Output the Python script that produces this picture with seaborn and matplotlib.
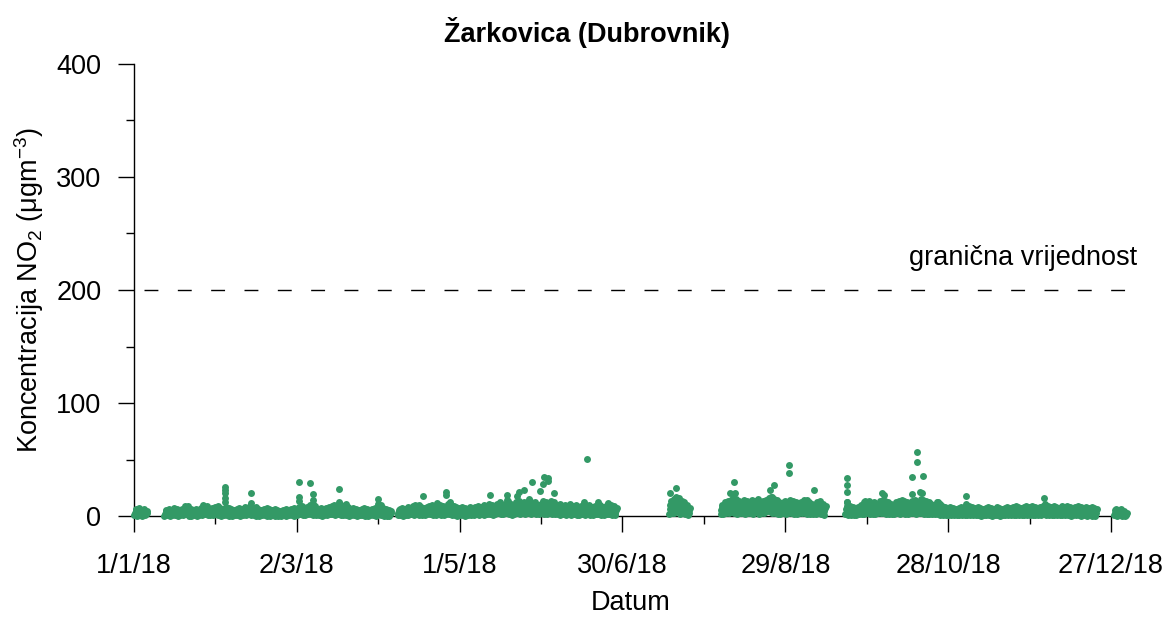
import numpy as np
import pandas as pd
import matplotlib
matplotlib.use("Agg")
import matplotlib.pyplot as plt
import matplotlib.dates as mdates
from matplotlib.ticker import FixedLocator
import seaborn as sns

# Satni NO2 na postaji Žarkovica, 2018 - vrijednosti procijenjene s grafa
# segmenti mjerenja: (prvi dan u godini, dnevne vrijednosti)
pocetni_dani = [0, 11, 97, 197, 216, 262, 361]

visoke = [
    [6, 7, 5, 6, 4],
    [5, 6, 5, 7, 6, 5, 6, 7, 9, 6, 5, 6, 5, 7, 6, 9, 6, 7, 8, 9,
     7, 6, 8, 7, 6, 5, 6, 7, 6, 8, 7, 9, 6, 8, 6, 5, 6, 7, 6, 5,
     6, 5, 4, 5, 6, 5, 6, 7, 6, 8, 9, 7, 8, 10, 11, 9, 6, 7, 6, 7,
     8, 9, 10, 8, 11, 9, 7, 8, 6, 7, 6, 5, 6, 7, 6, 5, 6, 7, 6, 10,
     7, 6, 5, 4],
    [6, 7, 6, 8, 7, 9, 8, 10, 8, 7, 8, 9, 10, 8, 9, 10, 9, 8, 11, 10,
     9, 8, 7, 8, 7, 6, 8, 7, 8, 9, 8, 10, 9, 11, 10, 9, 11, 12, 10, 11,
     13, 11, 10, 12, 13, 11, 12, 10, 13, 11, 12, 10, 11, 13, 12, 11, 13, 12, 10, 11,
     9, 10, 8, 11, 9, 10, 8, 9, 12, 9, 10, 8, 9, 12, 10, 8, 9, 11, 10, 9,
     7],
    [13, 15, 14, 16, 13, 12, 10, 7],
    [10, 12, 13, 14, 16, 15, 13, 12, 14, 13, 12, 14, 13, 15, 12, 13, 14, 16, 17, 15,
     14, 12, 11, 13, 12, 14, 13, 12, 11, 12, 13, 14, 12, 11, 10, 12, 13, 11, 9],
    [12, 9, 8, 7, 8, 10, 12, 11, 13, 10, 12, 11, 13, 14, 13, 12, 11, 10, 12, 13,
     11, 13, 12, 11, 13, 14, 12, 15, 14, 13, 12, 11, 10, 12, 11, 9, 8, 7, 8, 7,
     6, 7, 8, 7, 8, 9, 8, 7, 8, 7, 6, 7, 8, 7, 6, 8, 7, 6, 7, 8,
     7, 8, 9, 8, 7, 8, 9, 8, 9, 8, 7, 8, 9, 11, 9, 8, 9, 8, 7, 9,
     8, 9, 8, 7, 8, 9, 8, 7, 8, 7, 8, 7, 6],
    [6, 5, 6, 4, 3],
]

gornje_srednje = [
    [5, 5, 4, 4, 3],
    [4, 4, 4, 5, 5, 4, 4, 6, 7, 5, 4, 5, 4, 6, 4, 7, 5, 5, 6, 7,
     5, 5, 6, 6, 5, 4, 4, 5, 5, 6, 6, 7, 5, 6, 5, 4, 5, 5, 4, 4,
     5, 4, 3, 4, 4, 4, 5, 5, 5, 6, 7, 5, 6, 8, 8, 7, 5, 5, 5, 6,
     6, 7, 8, 6, 8, 7, 5, 6, 5, 5, 5, 4, 4, 5, 5, 4, 5, 5, 5, 8,
     5, 4, 4, 3],
    [5, 5, 5, 6, 5, 7, 6, 8, 6, 5, 6, 7, 8, 6, 7, 8, 7, 6, 9, 8,
     7, 6, 5, 6, 5, 5, 6, 5, 6, 7, 6, 8, 7, 9, 8, 7, 9, 10, 8, 9,
     10, 8, 7, 9, 11, 8, 10, 8, 11, 9, 10, 8, 9, 11, 9, 8, 10, 9, 8, 9,
     7, 8, 6, 9, 7, 8, 6, 7, 9, 7, 8, 6, 7, 9, 8, 6, 7, 9, 8, 7,
     5],
    [10, 12, 11, 13, 10, 10, 8, 5],
    [8, 9, 11, 11, 13, 12, 10, 10, 11, 10, 10, 11, 10, 12, 9, 11, 11, 13, 14, 12,
     11, 9, 8, 10, 9, 11, 10, 9, 8, 10, 10, 11, 9, 8, 8, 9, 10, 8, 7],
    [9, 7, 6, 5, 6, 8, 9, 8, 10, 8, 9, 8, 10, 11, 10, 9, 8, 8, 9, 10,
     8, 10, 9, 8, 10, 11, 9, 12, 11, 10, 9, 8, 8, 9, 8, 7, 6, 5, 6, 5,
     5, 5, 6, 5, 6, 7, 6, 5, 6, 5, 5, 5, 6, 5, 5, 6, 5, 5, 5, 6,
     5, 6, 7, 6, 5, 6, 7, 6, 7, 6, 5, 6, 7, 8, 7, 6, 7, 6, 5, 7,
     6, 7, 6, 5, 6, 7, 6, 5, 6, 5, 6, 5, 5],
    [5, 4, 4, 3, 2],
]

srednje = [
    [3, 3, 2, 3, 2],
    [2, 3, 2, 4, 3, 2, 3, 4, 5, 3, 2, 3, 2, 4, 3, 5, 3, 4, 4, 5,
     3, 3, 4, 4, 3, 2, 3, 4, 3, 4, 4, 5, 3, 4, 3, 2, 3, 4, 3, 2,
     3, 2, 2, 2, 3, 2, 3, 4, 3, 4, 5, 3, 4, 6, 5, 4, 3, 4, 3, 4,
     4, 5, 6, 4, 5, 4, 3, 4, 3, 3, 3, 2, 3, 4, 3, 2, 3, 4, 3, 5,
     3, 3, 2, 2],
    [3, 4, 3, 4, 3, 5, 4, 5, 4, 3, 4, 5, 6, 4, 5, 6, 4, 4, 6, 5,
     4, 4, 3, 4, 3, 3, 4, 3, 4, 5, 4, 5, 4, 6, 5, 4, 6, 7, 5, 6,
     7, 5, 4, 6, 8, 5, 7, 5, 8, 6, 7, 5, 6, 8, 6, 5, 7, 6, 5, 6,
     4, 5, 4, 6, 4, 5, 4, 4, 6, 4, 5, 4, 4, 6, 5, 4, 4, 6, 5, 4,
     3],
    [6, 9, 7, 10, 6, 7, 5, 3],
    [5, 6, 8, 7, 9, 8, 6, 7, 8, 6, 7, 8, 6, 9, 6, 8, 7, 9, 10, 8,
     8, 6, 5, 7, 6, 8, 7, 6, 5, 7, 7, 8, 6, 5, 5, 6, 7, 5, 4],
    [6, 4, 4, 3, 4, 5, 6, 5, 7, 5, 6, 5, 7, 8, 7, 6, 5, 5, 6, 7,
     5, 7, 6, 5, 7, 8, 6, 8, 7, 6, 6, 5, 5, 6, 5, 4, 4, 3, 4, 3,
     3, 3, 4, 3, 4, 4, 4, 3, 4, 3, 3, 3, 4, 3, 3, 4, 3, 3, 3, 4,
     3, 4, 4, 4, 3, 4, 4, 4, 4, 4, 3, 4, 4, 5, 4, 4, 4, 4, 3, 4,
     4, 4, 4, 3, 4, 4, 4, 3, 4, 3, 4, 3, 3],
    [3, 2, 3, 2, 1],
]

niske = [
    [1, 0, 1, 0, 1],
    [0, 1, 0, 1, 1, 0, 1, 1, 2, 0, 0, 1, 0, 1, 1, 2, 1, 1, 1, 2,
     1, 0, 1, 1, 0, 0, 1, 1, 0, 1, 1, 2, 1, 1, 0, 0, 1, 1, 0, 0,
     1, 0, 0, 0, 1, 0, 1, 1, 0, 1, 2, 1, 1, 2, 2, 1, 1, 1, 0, 1,
     1, 2, 2, 1, 2, 1, 1, 1, 0, 1, 1, 0, 1, 1, 0, 0, 1, 1, 0, 2,
     1, 0, 0, 0],
    [1, 1, 0, 1, 1, 2, 1, 2, 1, 1, 1, 2, 2, 1, 1, 2, 1, 1, 2, 2,
     1, 1, 0, 1, 1, 0, 1, 1, 1, 2, 1, 2, 1, 2, 2, 1, 2, 3, 2, 2,
     3, 2, 1, 2, 3, 2, 3, 2, 3, 2, 3, 2, 2, 3, 2, 2, 3, 2, 2, 2,
     1, 2, 1, 2, 1, 2, 1, 1, 2, 1, 2, 1, 1, 2, 2, 1, 1, 2, 2, 1,
     1],
    [2, 3, 3, 4, 2, 3, 2, 1],
    [2, 2, 3, 3, 4, 3, 2, 3, 3, 2, 3, 3, 2, 4, 2, 3, 3, 4, 4, 3,
     3, 2, 2, 3, 2, 3, 3, 2, 2, 3, 3, 3, 2, 2, 2, 2, 3, 2, 1],
    [2, 1, 1, 1, 1, 2, 2, 2, 3, 2, 2, 2, 3, 3, 3, 2, 2, 2, 2, 3,
     2, 3, 2, 2, 3, 3, 2, 3, 3, 2, 2, 2, 2, 2, 2, 1, 1, 1, 1, 1,
     1, 1, 1, 1, 1, 1, 1, 1, 1, 1, 0, 1, 1, 1, 0, 1, 1, 0, 1, 1,
     1, 1, 1, 1, 1, 1, 1, 1, 1, 1, 1, 1, 1, 2, 1, 1, 1, 1, 1, 1,
     1, 1, 1, 0, 1, 1, 1, 0, 1, 0, 1, 0, 0],
    [1, 0, 1, 0, 0],
]

# pojedinačni vrhovi iznad trake (dan u godini, vrijednost)
vrhovi_dan = [33.5, 33.5, 33.5, 33.5, 33.5, 43.0, 43.0, 25.5, 18.7,
              60.8, 60.8, 60.8, 64.8, 65.8, 65.8, 75.6, 75.6, 78.0, 90.0, 90.0,
              103.7, 106.5, 111.7, 114.8, 114.8, 116.6, 131.3, 137.5, 137.5,
              141.2, 141.8, 143.6, 145.7, 146.8, 149.7, 150.7, 151.0, 152.6, 152.6,
              154.8, 166.8, 174.7, 197.6, 199.7, 199.7, 219.7, 221.0, 221.5,
              234.5, 236.0, 235.0, 239.6, 241.5, 241.5, 250.7, 247.0,
              262.7, 262.7, 262.7, 262.7, 275.5, 276.5, 269.4, 286.6, 286.6,
              288.7, 288.7, 290.6, 289.7, 290.3, 283.0, 296.3, 306.5, 306.5, 335.5]
vrhovi_vrijednost = [26, 23, 20, 16, 12, 20.5, 11.5, 10, 9,
                     30.4, 17, 13, 29.5, 19.5, 14, 23.6, 12.7, 10.3, 15, 11,
                     10, 17.7, 11.8, 21.5, 18.6, 12.7, 19, 19, 14,
                     17.7, 21, 23, 15, 29.7, 22.5, 28.5, 34.8, 34, 31,
                     20, 50.4, 11.5, 20.6, 25.2, 17, 20.6, 30, 20,
                     23, 27.4, 17, 12.7, 45, 38, 23, 14,
                     34, 27.4, 21.5, 12, 20, 19, 13, 34.8, 19.5,
                     56.4, 48, 35.4, 21.5, 20.6, 14, 12, 17.7, 11, 15.7]

granicna_vrijednost = 200
oznake_x = ["1/1/18", "2/3/18", "1/5/18", "30/6/18", "29/8/18", "28/10/18", "27/12/18"]

pocetak = pd.Timestamp("2018-01-01")

redovi = []
for d0, vis, gsr, sre, nis in zip(pocetni_dani, visoke, gornje_srednje, srednje, niske):
    for i in range(len(vis)):
        dan = pocetak + pd.Timedelta(days=d0 + i)
        redovi.append((dan + pd.Timedelta(hours=3), nis[i]))
        redovi.append((dan + pd.Timedelta(hours=9), sre[i]))
        redovi.append((dan + pd.Timedelta(hours=15), gsr[i]))
        redovi.append((dan + pd.Timedelta(hours=20), vis[i]))
for d, v in zip(vrhovi_dan, vrhovi_vrijednost):
    redovi.append((pocetak + pd.Timedelta(days=d), v))
df = pd.DataFrame(redovi, columns=["Datum", "NO2"])

sns.set_style("ticks")
plt.rcParams["font.family"] = ["Liberation Sans", "DejaVu Sans"]
plt.rcParams["mathtext.fontset"] = "custom"
plt.rcParams["mathtext.rm"] = "Liberation Sans"
plt.rcParams["mathtext.it"] = "Liberation Sans:italic"
for k in ["text.color", "axes.labelcolor", "xtick.color", "ytick.color"]:
    plt.rcParams[k] = "black"

fig = plt.figure(figsize=(11.69, 6.17), dpi=100)
ax = fig.add_axes([134 / 1169, 1 - 516 / 617, (1127 - 134) / 1169, (516 - 64) / 617])

sns.scatterplot(data=df, x="Datum", y="NO2", ax=ax, color="#339966",
                s=25, linewidth=0, marker="o", clip_on=False, zorder=3)

ax.axhline(granicna_vrijednost, xmin=0.01, xmax=1.0, color="black", lw=1.0,
           dashes=(10, 14), zorder=2)
ax.text(pocetak + pd.Timedelta(days=369.5), granicna_vrijednost + 28, "granična vrijednost",
        ha="right", va="center", fontsize=19.5)

ax.set_ylim(0, 400)
ax.set_xlim(pocetak, pocetak + pd.Timedelta(days=365.9))

glavni = [pocetak + pd.Timedelta(days=60 * k) for k in range(7)]
sporedni = [pocetak + pd.Timedelta(days=30 + 60 * k) for k in range(6)]
ax.xaxis.set_major_locator(FixedLocator(mdates.date2num(glavni)))
ax.xaxis.set_minor_locator(FixedLocator(mdates.date2num(sporedni)))
ax.set_xticklabels(oznake_x)
ax.set_yticks([0, 100, 200, 300, 400])
ax.set_yticks([50, 150, 250, 350], minor=True)

ax.tick_params(which="major", length=11.5, width=1.0, labelsize=19.5, color="black")
ax.tick_params(which="minor", length=6, width=1.0, color="black")
ax.tick_params(axis="y", which="major", pad=12)
ax.tick_params(axis="x", which="major", pad=15)

for s in ["top", "right"]:
    ax.spines[s].set_visible(False)
for s in ["left", "bottom"]:
    ax.spines[s].set_linewidth(1.0)
    ax.spines[s].set_color("black")

ax.set_xlabel("Datum", fontsize=19.5, labelpad=8)
ax.set_ylabel(r"Koncentracija NO$_2$ (μgm$^{-3}$)", fontsize=19.5, labelpad=7)
fig.suptitle("Žarkovica (Dubrovnik)", fontsize=19.5, fontweight="bold", x=0.502, y=0.972)

fig.savefig("out.png", dpi=100)
